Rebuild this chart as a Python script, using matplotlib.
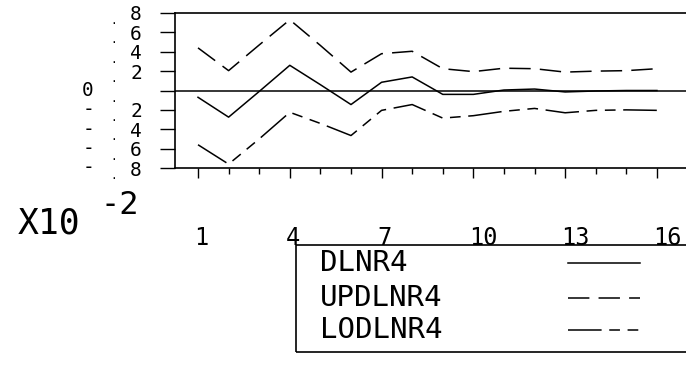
import matplotlib
matplotlib.use("Agg")
import matplotlib.pyplot as plt
import matplotlib.transforms as mtransforms
from matplotlib.patches import Rectangle
from matplotlib.lines import Line2D

# values in units of 1e-2
periods = list(range(1, 17))
dlnr4 = [-0.7, -2.75, -0.1, 2.6, 0.6, -1.45, 0.85, 1.4, -0.4, -0.4, 0.05, 0.15, -0.15, -0.05, 0.0, 0.0]
updlnr4 = [4.4, 2.05, 4.7, 7.3, 4.65, 1.9, 3.8, 4.05, 2.25, 1.95, 2.3, 2.25, 1.9, 2.0, 2.05, 2.25]
lodlnr4 = [-5.6, -7.6, -5.0, -2.25, -3.4, -4.65, -2.05, -1.45, -2.85, -2.6, -2.15, -1.85, -2.3, -2.05, -2.0, -2.05]
series_names = ['DLNR4', 'UPDLNR4', 'LODLNR4']
x_major = [1, 4, 7, 10, 13, 16]
y_ticks = [-8, -6, -4, -2, 0, 2, 4, 6, 8]

W, H = 686, 365
def fx(px): return px / W
def fy(py): return 1 - py / H

mono = 'DejaVu Sans Mono'

fig = plt.figure(figsize=(W / 100, H / 100), dpi=100)
ax = fig.add_axes([fx(175), fy(168), (W - 175) / W, (168 - 13) / H])

styles = ['-', (0, (14, 6)), (0, (22, 5, 7, 5, 7, 5))]
for vals, ls in zip([dlnr4, updlnr4, lodlnr4], styles):
    ax.plot(periods, vals, color='k', lw=1.1, linestyle=ls)
ax.axhline(0, color='k', lw=1.1)

ax.set_xlim(0.248, 16.95)
ax.set_ylim(-8, 8)
ax.spines['right'].set_visible(False)
for s in ['left', 'top', 'bottom']:
    ax.spines[s].set_linewidth(1.2)

ax.set_xticks(x_major)
ax.set_xticks(periods, minor=True)
ax.set_xticklabels([str(v) for v in x_major], fontfamily=mono, fontsize=17, ha='left')
ax.tick_params(axis='x', which='major', direction='out', length=7.5, width=1, pad=34)
ax.tick_params(axis='x', which='minor', direction='out', length=4, width=1)
shift = mtransforms.ScaledTranslation(-4 / 100, 0, fig.dpi_scale_trans)
for lab in ax.get_xticklabels():
    lab.set_transform(lab.get_transform() + shift)

ax.set_yticks(y_ticks)
ax.set_yticklabels(['' if v == 0 else str(abs(v)) for v in y_ticks],
                   fontfamily=mono, fontsize=14)
ax.tick_params(axis='y', direction='out', length=10.8, width=1, pad=13)

# sign / zero column and decimal points of the y labels
ytr = ax.get_yaxis_transform()
for v in y_ticks:
    if v < 0:
        ax.text((88 - 175) / 511, v, '-', transform=ytr, ha='center', va='center',
                fontfamily=mono, fontsize=14)
    elif v == 0:
        ax.text((88 - 175) / 511, v, '0', transform=ytr, ha='center', va='center',
                fontfamily=mono, fontsize=14)
    ax.text((114 - 175) / 511, v, '.', transform=ytr + mtransforms.ScaledTranslation(0, -0.08, fig.dpi_scale_trans),
            ha='center', va='center', fontfamily=mono, fontsize=8)

fig.text(fx(18), fy(233), 'X10', fontfamily=mono, fontsize=25, ha='left', va='baseline')
fig.text(fx(100), fy(214), '-2', fontfamily=mono, fontsize=23, ha='left', va='baseline')

# legend box
fig.add_artist(Rectangle((fx(296), fy(352)), fx(420), (352 - 245) / H, fill=False,
                         edgecolor='k', lw=1.2, transform=fig.transFigure))
rows_y = [263, 298, 330]
for name, ls, ry in zip(series_names, styles, rows_y):
    fig.text(fx(320), fy(ry), name, fontfamily=mono, fontsize=21, ha='left', va='center')
    fig.add_artist(Line2D([fx(568), fx(640)], [fy(ry), fy(ry)], color='k', lw=1.1,
                          linestyle=ls, transform=fig.transFigure))

fig.savefig('out.png', dpi=100)
